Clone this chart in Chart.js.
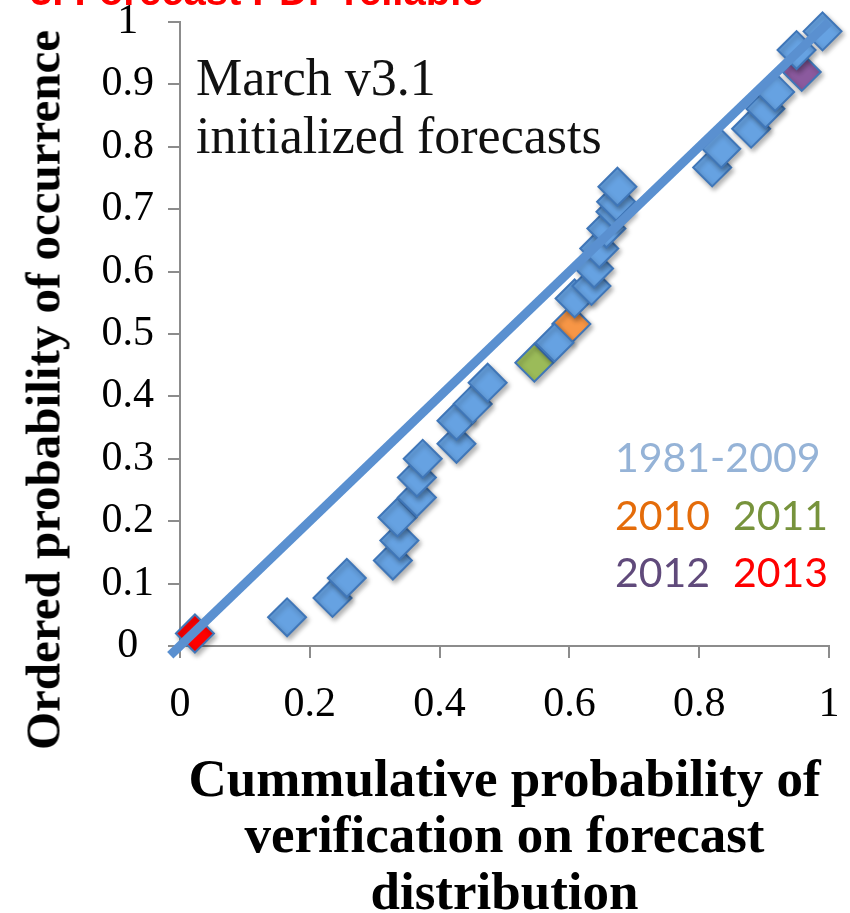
<!DOCTYPE html>
<html>
<head>
<meta charset="utf-8">
<script src="https://cdn.jsdelivr.net/npm/chart.js@4"></script>
<style>
  html, body { margin: 0; padding: 0; background: #ffffff; }
  #wrap { position: relative; width: 850px; height: 913px; overflow: hidden; background: #fff; }
  #c { position: absolute; left: 0; top: 0; }
  .txt { position: absolute; white-space: nowrap; line-height: 1; }
  .serif { font-family: 'Liberation Serif', 'Times New Roman', serif; }
  .sans { font-family: Lato, 'Open Sans', sans-serif; font-size: 41px; }
</style>
</head>
<body>
<div id="wrap">
  <canvas id="c" width="850" height="913"></canvas>
  <div class="txt" style="left:30px; top:-29px; font-family:'Liberation Sans',Arial,sans-serif; font-weight:bold; font-size:40px; color:#ff0000;">3. Forecast PDF reliable</div>
  <div class="txt serif" style="left:196px; top:52px; font-size:52px; color:#111;">March v3.1</div>
  <div class="txt serif" style="left:196px; top:110px; font-size:52px; color:#111;">initialized forecasts</div>
  <div class="txt sans" style="left:615px; top:436px; color:#95B3D7;">1981-2009</div>
  <div class="txt sans" style="left:615px; top:494px; color:#E46C0A;">2010</div>
  <div class="txt sans" style="left:733px; top:494px; color:#77933C;">2011</div>
  <div class="txt sans" style="left:615px; top:551px; color:#604A7B;">2012</div>
  <div class="txt sans" style="left:733px; top:551px; color:#FF0000;">2013</div>
  <div class="txt serif" style="left:43px; top:390px; font-size:49px; font-weight:bold; color:#000; transform:translate(-50%,-50%) rotate(-90deg);">Ordered probability of occurrence</div>
</div>
<script>
// ---- data ----
const xTicks = [0, 0.2, 0.4, 0.6, 0.8, 1];
const yTicks = [0, 0.1, 0.2, 0.3, 0.4, 0.5, 0.6, 0.7, 0.8, 0.9, 1];

const hindcastX = [0.165, 0.235, 0.257, 0.328, 0.338, 0.335, 0.365, 0.365, 0.374, 0.426, 0.426, 0.451, 0.474,
                   0.577, 0.608, 0.634, 0.638, 0.646, 0.657, 0.671, 0.672, 0.674,
                   0.820, 0.834, 0.880, 0.902, 0.917, 0.950, 0.990];
const hindcastY = [0.046, 0.077, 0.109, 0.137, 0.169, 0.206, 0.238, 0.270, 0.300, 0.324, 0.361, 0.388, 0.422,
                   0.486, 0.557, 0.577, 0.605, 0.637, 0.669, 0.696, 0.712, 0.736,
                   0.767, 0.797, 0.829, 0.861, 0.888, 0.955, 0.985];
const y2010 = { x: 0.603, y: 0.516 };
const y2011 = { x: 0.546, y: 0.454 };
const y2012 = { x: 0.958, y: 0.920 };
const y2013 = { x: 0.023, y: 0.020 };
const refLineX = [-0.015, 1.0];
const refLineY = [-0.015, 1.0];

const pts = (xs, ys) => xs.map((x, i) => ({ x: x, y: ys[i] }));

const shadowPlugin = {
  id: 'shadow',
  beforeDatasetDraw(chart, args) {
    const ctx = chart.ctx;
    ctx.save();
    if (args.meta.type === 'scatter') {
      ctx.shadowColor = 'rgba(0,0,0,0.30)';
      ctx.shadowBlur = 5;
      ctx.shadowOffsetX = 2;
      ctx.shadowOffsetY = 3;
    }
  },
  afterDatasetDraw(chart) { chart.ctx.restore(); }
};

const marker = (fill) => ({
  type: 'scatter',
  pointStyle: 'rectRot',
  pointRadius: 19,
  pointHoverRadius: 19,
  borderWidth: 2,
  borderColor: '#3f76b8',
  backgroundColor: fill,
  clip: false,
  order: 1
});

new Chart(document.getElementById('c'), {
  data: {
    datasets: [
      Object.assign({ label: '1981-2009', data: pts(hindcastX, hindcastY) }, marker('#66a2e2')),
      Object.assign({ label: '2010', data: [y2010] }, marker('#f79646')),
      Object.assign({ label: '2011', data: [y2011] }, marker('#9bbb59')),
      Object.assign({ label: '2012', data: [y2012] }, marker('#8b5a9e')),
      Object.assign({ label: '2013', data: [y2013] }, marker('#ff0000')),
      {
        type: 'line', label: '1:1', data: pts(refLineX, refLineY),
        borderColor: '#5a90d0', borderWidth: 9, pointRadius: 0, fill: false,
        clip: false, order: 0, borderCapStyle: 'butt'
      }
    ]
  },
  options: {
    responsive: false,
    animation: false,
    layout: { padding: { top: 22, right: 20, left: 0, bottom: 0 } },
    plugins: { legend: { display: false }, tooltip: { enabled: false } },
    scales: {
      x: {
        type: 'linear', min: 0, max: 1,
        afterBuildTicks: (s) => { s.ticks = xTicks.map(v => ({ value: v })); },
        afterFit: (s) => { s.height = 267; s.paddingLeft = 0; s.paddingRight = 0; },
        ticks: {
          color: '#000', padding: 22,
          font: { family: "'Liberation Serif', serif", size: 42 },
          callback: (v) => String(v)
        },
        grid: { drawOnChartArea: false, drawTicks: true, tickLength: 12, color: '#8c8c8c', lineWidth: 2 },
        border: { color: '#8c8c8c', width: 2 },
        title: {
          display: true,
          text: ['Cummulative probability of', 'verification on forecast', 'distribution'],
          color: '#000',
          font: { family: "'Liberation Serif', serif", size: 53, weight: 'bold', lineHeight: 1.06 },
          padding: { top: 0, bottom: -10 }
        }
      },
      y: {
        type: 'linear', min: 0, max: 1,
        afterBuildTicks: (s) => { s.ticks = yTicks.map(v => ({ value: v })); },
        afterFit: (s) => { s.width = 180; s.paddingTop = 0; s.paddingBottom = 0; },
        ticks: {
          color: '#000', padding: 14, crossAlign: 'center',
          font: { family: "'Liberation Serif', serif", size: 42 },
          callback: (v) => String(v)
        },
        grid: { drawOnChartArea: false, drawTicks: true, tickLength: 12, color: '#8c8c8c', lineWidth: 2 },
        border: { color: '#8c8c8c', width: 2 }
      }
    }
  },
  plugins: [shadowPlugin]
});
</script>
</body>
</html>
